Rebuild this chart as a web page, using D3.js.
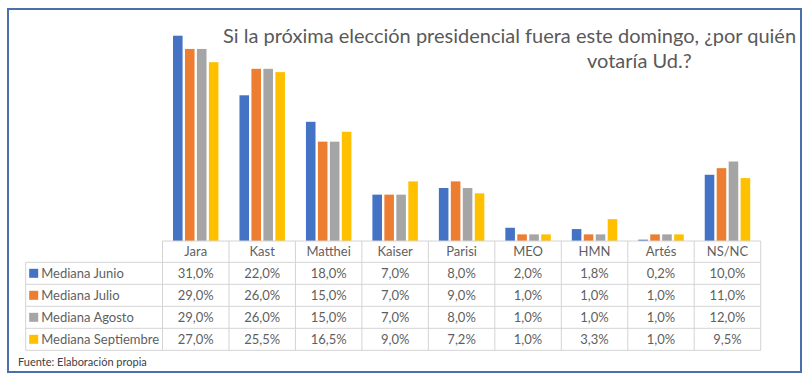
<!DOCTYPE html>
<html>
<head>
<meta charset="utf-8">
<script src="https://cdn.jsdelivr.net/npm/d3@7"></script>
<style>
  body { margin: 0; background: #fff; }
  svg { display: block; font-family: Lato, "Open Sans", sans-serif; }
</style>
</head>
<body>
<svg id="chart" width="809" height="381"></svg>
<script>
// data
const categories = ["Jara", "Kast", "Matthei", "Kaiser", "Parisi", "MEO", "HMN", "Artés", "NS/NC"];
const seriesNames = ["Mediana Junio", "Mediana Julio", "Mediana Agosto", "Mediana Septiembre"];
const junio      = [31.0, 22.0, 18.0, 7.0, 8.0, 2.0, 1.8, 0.2, 10.0];
const julio      = [29.0, 26.0, 15.0, 7.0, 9.0, 1.0, 1.0, 1.0, 11.0];
const agosto     = [29.0, 26.0, 15.0, 7.0, 8.0, 1.0, 1.0, 1.0, 12.0];
const septiembre = [27.0, 25.5, 16.5, 9.0, 7.2, 1.0, 3.3, 1.0, 9.5];
const titleLines = ["Si la próxima elección presidencial fuera este domingo, ¿por quién", "votaría Ud.?"];
const source = "Fuente: Elaboración propia";

const seriesValues = [junio, julio, agosto, septiembre];
const colors = ["#4472C4", "#ED7D31", "#A5A5A5", "#FFC000"];

const svg = d3.select("#chart");

// shrink/grow a text node's font so it spans the given width (Calibri substitute)
function fitWidth(sel, width) {
    const node = sel.node();
    const size = parseFloat(sel.style("font-size"));
    const w = node.getComputedTextLength();
    sel.style("font-size", (size * width / w).toFixed(2) + "px");
    return sel;
}

// outer frame
svg.append("rect")
    .attr("x", 8).attr("y", 9)
    .attr("width", 793).attr("height", 363)
    .attr("fill", "none")
    .attr("stroke", "#4a70ab")
    .attr("stroke-width", 2);

// scales
const x = d3.scaleBand()
    .domain(categories)
    .range([162.5, 760.7]);

const xInner = d3.scaleBand()
    .domain(seriesNames)
    .range([10.5, x.bandwidth() - 10.5])
    .paddingInner(0.2);

const baseY = 241;
const y = d3.scaleLinear()
    .domain([0, 31])
    .range([baseY, 35.7]);

// bars
const groups = svg.append("g")
    .attr("class", "bars")
    .selectAll("g")
    .data(seriesNames)
    .join("g")
    .attr("fill", (d, i) => colors[i]);

groups.selectAll("rect")
    .data((s, i) => seriesValues[i].map((v, j) => ({ series: s, cat: categories[j], value: v })))
    .join("rect")
    .attr("x", d => x(d.cat) + xInner(d.series))
    .attr("y", d => y(d.value))
    .attr("width", xInner.bandwidth())
    .attr("height", d => baseY - y(d.value));

// title
const t1 = svg.append("text")
    .attr("x", 223).attr("y", 43.3)
    .attr("fill", "#595959")
    .style("font-size", "20px")
    .text(titleLines[0]);
fitWidth(t1, 573);
svg.append("text")
    .attr("x", 587).attr("y", 68.3)
    .attr("fill", "#595959")
    .style("font-size", t1.style("font-size"))
    .text(titleLines[1]);

// data table
const fmtLocale = d3.formatLocale({ decimal: ",", thousands: ".", grouping: [3], currency: ["", "$"] });
const fmt = v => fmtLocale.format(".1f")(v) + "%";

const tableLeft = 25.7;
const headerTop = baseY;
const headerH = 21.3;
const rowH = 22;
const lineColor = "#d4d4d4";
const textColor = "#5f5f5f";
const cellFont = "13px";

const table = svg.append("g").attr("class", "data-table");

// horizontal lines
const rowTops = d3.range(seriesNames.length + 1).map(i => headerTop + headerH + i * rowH);
table.append("line")
    .attr("x1", x.range()[0]).attr("x2", x.range()[1])
    .attr("y1", headerTop).attr("y2", headerTop)
    .attr("stroke", lineColor);
table.selectAll("line.h")
    .data(rowTops)
    .join("line")
    .attr("class", "h")
    .attr("x1", tableLeft).attr("x2", x.range()[1])
    .attr("y1", d => d).attr("y2", d => d)
    .attr("stroke", lineColor);

// vertical lines
const colEdges = categories.map(c => x(c)).concat([x.range()[1]]);
table.selectAll("line.v")
    .data(colEdges)
    .join("line")
    .attr("class", "v")
    .attr("x1", d => d).attr("x2", d => d)
    .attr("y1", headerTop).attr("y2", rowTops[rowTops.length - 1])
    .attr("stroke", lineColor);
table.append("line")
    .attr("x1", tableLeft).attr("x2", tableLeft)
    .attr("y1", rowTops[0]).attr("y2", rowTops[rowTops.length - 1])
    .attr("stroke", lineColor);

// header labels
table.selectAll("text.head")
    .data(categories)
    .join("text")
    .attr("class", "head")
    .attr("x", d => x(d) + x.bandwidth() / 2)
    .attr("y", headerTop + headerH / 2)
    .attr("dy", "0.36em")
    .attr("text-anchor", "middle")
    .attr("fill", textColor)
    .style("font-size", cellFont)
    .text(d => d);

// rows
const rows = table.selectAll("g.row")
    .data(seriesNames)
    .join("g")
    .attr("class", "row")
    .attr("transform", (d, i) => `translate(0,${rowTops[i] + rowH / 2})`);

rows.append("rect")
    .attr("x", tableLeft + 3.5)
    .attr("y", -4.5)
    .attr("width", 9)
    .attr("height", 9)
    .attr("fill", (d, i) => colors[i]);

rows.append("text")
    .attr("x", tableLeft + 15.5)
    .attr("dy", "0.36em")
    .attr("fill", textColor)
    .style("font-size", cellFont)
    .text(d => d);

rows.selectAll("text.val")
    .data((s, i) => seriesValues[i].map((v, j) => ({ cat: categories[j], value: v })))
    .join("text")
    .attr("class", "val")
    .attr("x", d => x(d.cat) + x.bandwidth() / 2)
    .attr("dy", "0.36em")
    .attr("text-anchor", "middle")
    .attr("fill", textColor)
    .style("font-size", cellFont)
    .text(d => fmt(d.value));

// source note
svg.append("text")
    .attr("x", 18).attr("y", 366)
    .attr("fill", "#404040")
    .style("font-size", "11px")
    .text(source);
</script>
</body>
</html>
